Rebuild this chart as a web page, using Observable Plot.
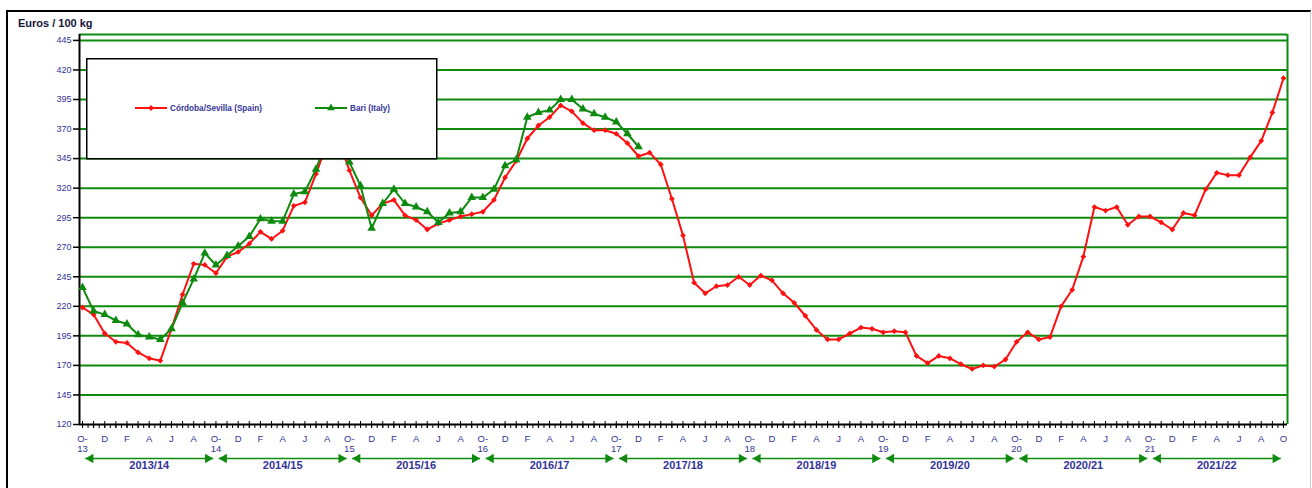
<!DOCTYPE html>
<html>
<head>
<meta charset="utf-8">
<script src="https://cdn.jsdelivr.net/npm/d3@7"></script>
<script src="https://cdn.jsdelivr.net/npm/@observablehq/plot@0.6"></script>
<style>
  body { margin: 0; background: #fff; }
  #wrap { position: relative; width: 1312px; height: 488px; overflow: hidden; background: #fff;
          font-family: "Liberation Sans", Arial, sans-serif; }
  #frame { position: absolute; left: 6px; top: 10px; width: 1302px; height: 520px;
           border-left: 2px solid #000; border-top: 2px solid #000; border-right: 1px solid #c8c8c8; }
  #chart { position: absolute; left: 0; top: 0; }
  #title { position: absolute; left: 18px; top: 17px; font-size: 11px; font-weight: bold; color: #14143c; }
  #legend { position: absolute; left: 86px; top: 58px; }
</style>
</head>
<body>
<div id="wrap">
  <div id="frame"></div>
  <div id="chart"></div>
  <div id="title">Euros / 100 kg</div>
  <svg id="legend" width="352" height="102"></svg>
</div>
<script>
// ---------------- data ----------------
// monthly prices, index 0 = October 2013
const spain = [
  219, 213, 197, 190, 189, 181, 176, 174, 201, 230, 256, 255,   // Oct13 - Sep14
  248, 262, 266, 273, 283, 277, 284, 305, 308, 332, 358, 362,   // Oct14 - Sep15
  335, 312, 297, 307, 310, 297, 293, 285, 290, 293, 296, 298,   // Oct15 - Sep16
  300, 310, 329, 343, 362, 373, 380, 390, 385, 375, 369, 369,   // Oct16 - Sep17
  366, 358, 347, 350, 340, 311, 280, 240, 231, 237, 238, 245,   // Oct17 - Sep18
  238, 246, 242, 231, 223, 212, 200, 192, 192, 197, 202, 201,   // Oct18 - Sep19
  198, 199, 198, 178, 172, 178, 176, 171, 167, 170, 169, 175,   // Oct19 - Sep20
  190, 198, 192, 194, 220, 234, 262, 304, 301, 304, 289, 296,   // Oct20 - Sep21
  296, 291, 285, 299, 297, 319, 333, 331, 331, 346, 360, 384,   // Oct21 - Sep22
  413                                                           // Oct22
];
const italy = [
  236, 216, 213, 208, 205, 196, 194, 192, 201, 223, 243, 265,   // Oct13 - Sep14
  255, 263, 271, 279, 294, 292, 292, 315, 317, 336, 362, 368,   // Oct14 - Sep15
  342, 322, 286, 307, 319, 307, 304, 300, 291, 299, 300, 312,   // Oct15 - Sep16
  312, 319, 339, 344, 380, 384, 386, 395, 395, 387, 383, 380,   // Oct16 - Sep17
  376, 366, 355                                                 // Oct17 - Dec17
];
const seriesNames = ["Córdoba/Sevilla (Spain)", "Bari (Italy)"];
const yTicks = [120, 145, 170, 195, 220, 245, 270, 295, 320, 345, 370, 395, 420, 445];
const monthLetters = ["O", "D", "F", "A", "J", "A"];
const yearLabels = ["13", "14", "15", "16", "17", "18", "19", "20", "21"];
const seasons = ["2013/14", "2014/15", "2015/16", "2016/17", "2017/18", "2018/19", "2019/20", "2020/21", "2021/22"];

// ---------------- styling ----------------
const RED = "#ff1010";
const GREEN = "#0e8a0e";
const NAVY = "#333399";

const nMonths = spain.length - 1;          // 108
const xDomain = [-0.27, nMonths + 0.36];
const yDomain = [120, 450];

const spainData = spain.map((v, i) => ({i, v}));
const italyData = italy.map((v, i) => ({i, v}));
const seasonData = seasons.map((label, k) => ({label, s: 12 * k, e: 12 * (k + 1)}));
const monthTicks = d3.range(0, nMonths + 1, 2);
const unitTicks = d3.range(0, nMonths + 1, 1);
const halfTicks = d3.range(0, nMonths + 0.01, 0.5);
const fmtMonth = (i) => {
  if (i % 12 === 0) return i === nMonths ? "O" : "O-\n" + yearLabels[i / 12];
  return monthLetters[(i % 12) / 2];
};

const chart = Plot.plot({
  width: 1312,
  height: 488,
  marginLeft: 79,
  marginRight: 25,
  marginTop: 34,
  marginBottom: 64,
  style: {background: "none", fontFamily: "Liberation Sans, Arial, sans-serif", overflow: "visible"},
  x: {domain: xDomain, axis: null},
  y: {domain: yDomain, axis: null},
  marks: [
    // grid & frame
    Plot.ruleY(yTicks.slice(1).concat([yDomain[1]]), {stroke: GREEN, strokeWidth: 2}),
    Plot.ruleX([xDomain[1]], {stroke: GREEN, strokeWidth: 2}),
    // y axis
    Plot.axisY({ticks: yTicks, tickSize: 6, tickPadding: 2, stroke: "#000", strokeWidth: 1.5,
                fill: NAVY, fontSize: 9, label: null}),
    Plot.ruleX([xDomain[0]], {stroke: "#000", strokeWidth: 2}),
    // x axis ticks
    Plot.axisX({ticks: halfTicks, tickSize: 4, tickFormat: () => "", stroke: "#000", strokeWidth: 1, label: null}),
    Plot.axisX({ticks: unitTicks, tickSize: 7, dy: -3, tickFormat: () => "", stroke: "#000", strokeWidth: 1, label: null}),
    Plot.axisX({ticks: monthTicks, tickSize: 0, tickPadding: 11, tickFormat: fmtMonth,
                fill: NAVY, fontSize: 9.5, lineHeight: 1.0, label: null}),
    Plot.ruleY([yDomain[0]], {stroke: "#000", strokeWidth: 2}),
    // season arrows
    Plot.link(seasonData, {x1: d => d.s + 0.25, x2: d => d.e - 0.25, y1: yDomain[0], y2: yDomain[0],
                           dy: 34, stroke: GREEN, strokeWidth: 1.5}),
    Plot.dot(seasonData, {x: d => d.s + 0.25, y: yDomain[0], dy: 34, dx: 5.4, symbol: "triangle",
                          rotate: -90, r: 3.5, fill: GREEN, stroke: "none"}),
    Plot.dot(seasonData, {x: d => d.e - 0.25, y: yDomain[0], dy: 34, dx: -5.4, symbol: "triangle",
                          rotate: 90, r: 3.5, fill: GREEN, stroke: "none"}),
    Plot.text(seasonData, {x: d => (d.s + d.e) / 2, y: yDomain[0], dy: 41, text: "label",
                           fill: NAVY, fontWeight: "bold", fontSize: 11}),
    // series
    Plot.line(spainData, {x: "i", y: "v", stroke: RED, strokeWidth: 2}),
    Plot.dot(spainData, {x: "i", y: "v", symbol: "diamond2", r: 2.6, fill: RED, stroke: "none"}),
    Plot.line(italyData, {x: "i", y: "v", stroke: GREEN, strokeWidth: 2}),
    Plot.dot(italyData, {x: "i", y: "v", symbol: "triangle", r: 3.2, fill: GREEN, stroke: "none"})
  ]
});
document.getElementById("chart").appendChild(chart);

// ---------------- legend ----------------
const lg = d3.select("#legend");
lg.append("rect").attr("x", 0.75).attr("y", 0.75).attr("width", 350).attr("height", 100)
  .attr("fill", "#fff").attr("stroke", "#000").attr("stroke-width", 1.5);
const items = [
  {name: seriesNames[0], color: RED, sym: d3.symbolDiamond2, size: 22, x0: 49},
  {name: seriesNames[1], color: GREEN, sym: d3.symbolTriangle, size: 26, x0: 229}
];
items.forEach(it => {
  lg.append("line").attr("x1", it.x0).attr("x2", it.x0 + 32).attr("y1", 50).attr("y2", 50)
    .attr("stroke", it.color).attr("stroke-width", 2);
  lg.append("path").attr("d", d3.symbol(it.sym, it.size)()).attr("transform", `translate(${it.x0 + 16},50)`)
    .attr("fill", it.color);
  lg.append("text").attr("x", it.x0 + 35).attr("y", 52.8).text(it.name)
    .attr("fill", NAVY).attr("font-size", 8.2).attr("font-weight", "bold")
    .attr("font-family", "Liberation Sans, Arial, sans-serif");
});
</script>
</body>
</html>
